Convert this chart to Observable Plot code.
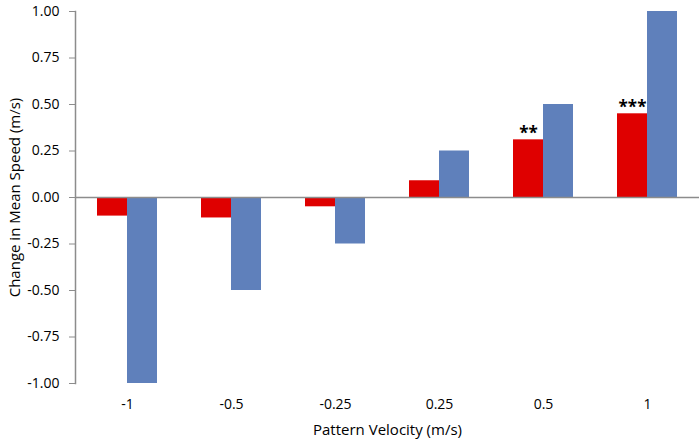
<!DOCTYPE html>
<html>
<head>
<meta charset="utf-8">
<script src="https://cdn.jsdelivr.net/npm/d3@7"></script>
<script src="https://cdn.jsdelivr.net/npm/@observablehq/plot@0.6"></script>
<style>
  html, body { margin: 0; padding: 0; background: #fff; }
</style>
</head>
<body>
<div id="chart"></div>
<script>
const categories = ["-1", "-0.5", "-0.25", "0.25", "0.5", "1"];
const observedChange = [-0.10, -0.11, -0.05, 0.09, 0.31, 0.45];
const patternVelocity = [-1, -0.5, -0.25, 0.25, 0.5, 1];
const significance = ["", "", "", "", "**", "***"];
const yTicks = [-1, -0.75, -0.5, -0.25, 0, 0.25, 0.5, 0.75, 1];

const rows = categories.map((c, i) => ({
  cat: c,
  observed: observedChange[i],
  pattern: patternVelocity[i],
  sig: significance[i]
}));

const RED = "#df0000";
const BLUE = "#5f80bb";
const GRAY = "#8c8c8c";

const chart = Plot.plot({
  width: 700,
  height: 442,
  marginLeft: 75,
  marginRight: 1,
  marginTop: 11,
  marginBottom: 59,
  style: { fontFamily: "'Open Sans', sans-serif", fontSize: "14px", color: "#000", background: "#fff" },
  x: { domain: categories, padding: 0 },
  y: { domain: [-1, 1] },
  marks: [
    Plot.axisY({
      ticks: yTicks,
      tickFormat: d => d.toFixed(2),
      tickSize: 6,
      tickPadding: 10,
      stroke: GRAY,
      fontSize: 14,
      label: null
    }),
    Plot.axisY({
      ticks: [],
      label: "Change in Mean Speed (m/s)",
      labelAnchor: "center",
      labelArrow: "none",
      labelOffset: 66,
      fontSize: 15
    }),
    Plot.axisX({
      tickSize: 0,
      tickPadding: 16,
      fontSize: 14,
      label: null
    }),
    Plot.axisX({
      ticks: [],
      label: "Pattern Velocity (m/s)",
      labelAnchor: "center",
      labelArrow: "none",
      labelOffset: 51,
      fontSize: 15
    }),
    Plot.barY(rows, { x: "cat", y: "observed", fill: RED, dx: -15, insetLeft: 37, insetRight: 37 }),
    Plot.barY(rows, { x: "cat", y: "pattern", fill: BLUE, dx: 15, insetLeft: 37, insetRight: 37 }),
    Plot.ruleY([0], { stroke: GRAY, strokeWidth: 1.5 }),
    Plot.frame({ anchor: "left", stroke: GRAY, strokeWidth: 1.5 }),
    Plot.text(rows.filter(d => d.sig), {
      x: "cat", y: "observed", text: "sig", dx: -15, dy: -1,
      lineAnchor: "bottom", fontWeight: "bold", fontSize: 17, fill: "#000"
    })
  ]
});

document.getElementById("chart").appendChild(chart);
</script>
</body>
</html>
